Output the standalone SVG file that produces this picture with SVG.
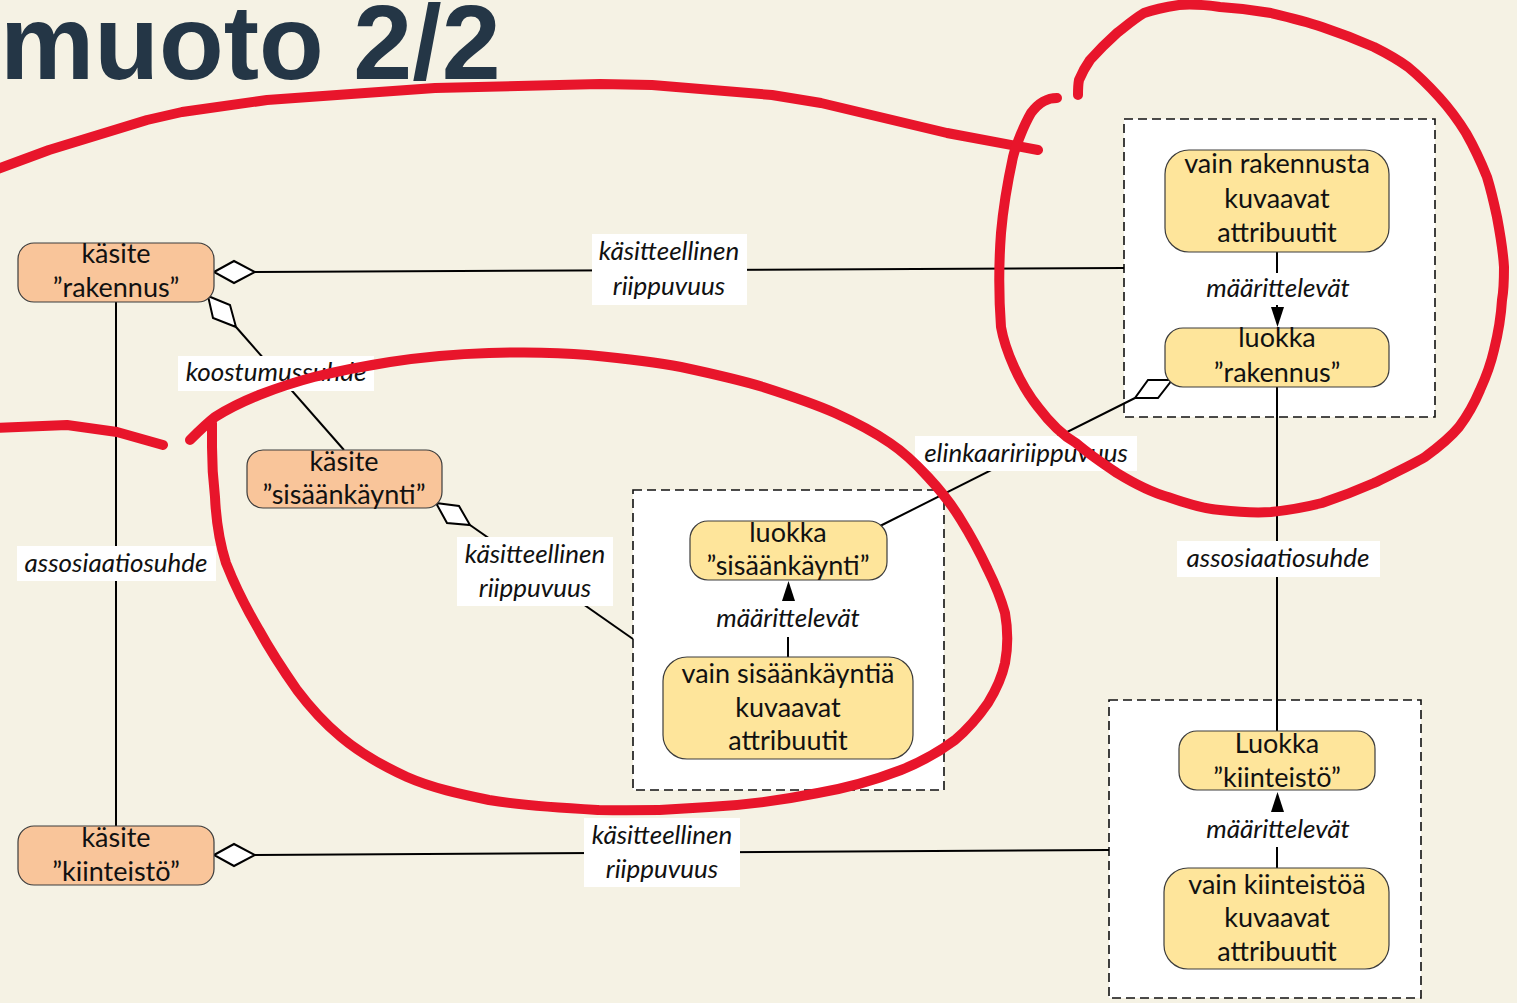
<svg xmlns="http://www.w3.org/2000/svg" width="1517" height="1003" viewBox="0 0 1517 1003">
<defs>
<style>
.bg{fill:#F5F2E4}
.title{font-family:"Liberation Sans",Arial,sans-serif;font-weight:bold;font-size:106px;fill:#243646}
.n{stroke:#3c3c3c;stroke-width:1.2}
.o{fill:#F9C59A}
.y{fill:#FEE59B}
.t{font-family:Lato,"Noto Sans",sans-serif;font-size:27px;fill:#111;text-anchor:middle}
.i{font-family:Lato,"Noto Sans",sans-serif;font-style:italic;font-size:26px;fill:#111;text-anchor:middle}
.box{fill:#fff;stroke:#111;stroke-width:1.6;stroke-dasharray:9 5}
.c{stroke:#000;stroke-width:2;fill:none}
.d{fill:#fff;stroke:#000;stroke-width:2;stroke-linejoin:miter}
.lb{fill:#fff}
.red{fill:none;stroke:#E8152B;stroke-width:10;stroke-linecap:round;stroke-linejoin:round}
</style>
</defs>
<rect class="bg" x="0" y="0" width="1517" height="1003"/>
<text class="title" x="0" y="79">muoto 2/2</text>

<g id="group-rakennus">
<rect class="box" x="1124" y="119" width="311" height="298"/>
</g>
<g id="group-sisaankaynti">
<rect class="box" x="633" y="490" width="311" height="300"/>
</g>
<g id="group-kiinteisto">
<rect class="box" x="1109" y="700" width="312" height="298"/>
</g>

<g id="connectors">
<line class="c" x1="255" y1="272" x2="1124" y2="268"/>
<polygon class="d" points="214,272 234,261 255,272 234,283"/>
<line class="c" x1="236" y1="327" x2="344" y2="450"/>
<polygon class="d" points="208,296 230,305 236,327 213,318"/>
<line class="c" x1="470" y1="525" x2="633" y2="639"/>
<polygon class="d" points="436,503 459,506 470,525 447,523"/>
<line class="c" x1="1135" y1="398" x2="880" y2="526"/>
<polygon class="d" points="1172,380 1148,380 1135,398 1158,398"/>
<line class="c" x1="255" y1="855" x2="1109" y2="850"/>
<polygon class="d" points="214,855 234,844 255,855 234,866"/>
<line class="c" x1="116" y1="302" x2="116" y2="826"/>
<line class="c" x1="1277" y1="387" x2="1277" y2="731"/>
<line class="c" x1="1277" y1="252" x2="1277" y2="273"/>
<line class="c" x1="1277" y1="305" x2="1277" y2="310"/>
<polygon points="1271,307 1284,307 1277.5,327" fill="#000"/>
<line class="c" x1="788" y1="657" x2="788" y2="637"/>
<polygon points="782,601 795,601 788.5,581" fill="#000"/>
<line class="c" x1="1277" y1="868" x2="1277" y2="847"/>
<polygon points="1271,812 1284,812 1277.5,792" fill="#000"/>

<rect class="lb" x="592" y="234" width="155" height="71"/>
<text class="i" x="669" y="260">käsitteellinen</text>
<text class="i" x="669" y="295">riippuvuus</text>
<rect class="lb" x="178" y="356" width="196" height="35"/>
<text class="i" x="276" y="381">koostumussuhde</text>
<rect class="lb" x="457" y="537" width="156" height="69"/>
<text class="i" x="535" y="563">käsitteellinen</text>
<text class="i" x="535" y="597">riippuvuus</text>
<rect class="lb" x="915" y="436" width="222" height="35"/>
<text class="i" x="1026" y="462">elinkaaririippuvuus</text>
<rect class="lb" x="17" y="546" width="199" height="35"/>
<text class="i" x="116" y="572">assosiaatiosuhde</text>
<rect class="lb" x="1177" y="541" width="203" height="36"/>
<text class="i" x="1278" y="567">assosiaatiosuhde</text>
<rect class="lb" x="584" y="818" width="156" height="69"/>
<text class="i" x="662" y="844">käsitteellinen</text>
<text class="i" x="662" y="878">riippuvuus</text>
<text class="i" x="1278" y="297">määrittelevät</text>
<text class="i" x="788" y="627">määrittelevät</text>
<text class="i" x="1278" y="838">määrittelevät</text>
</g>

<g id="kasite-rakennus">
<rect class="n o" x="18" y="243" width="196" height="59" rx="16"/>
<text class="t" x="116" y="263">käsite</text>
<text class="t" x="116" y="297">”rakennus”</text>
</g>
<g id="kasite-sisaankaynti">
<rect class="n o" x="247" y="450" width="195" height="58" rx="16"/>
<text class="t" x="344" y="471">käsite</text>
<text class="t" x="344" y="504">”sisäänkäynti”</text>
</g>
<g id="kasite-kiinteisto">
<rect class="n o" x="18" y="826" width="196" height="59" rx="16"/>
<text class="t" x="116" y="847">käsite</text>
<text class="t" x="116" y="881">”kiinteistö”</text>
</g>
<g id="attr-rakennus">
<rect class="n y" x="1165" y="150" width="224" height="102" rx="24"/>
<text class="t" x="1277" y="173">vain rakennusta</text>
<text class="t" x="1277" y="208">kuvaavat</text>
<text class="t" x="1277" y="242">attribuutit</text>
</g>
<g id="luokka-rakennus">
<rect class="n y" x="1165" y="328" width="224" height="59" rx="18"/>
<text class="t" x="1277" y="347">luokka</text>
<text class="t" x="1277" y="382">”rakennus”</text>
</g>
<g id="luokka-sisaankaynti">
<rect class="n y" x="690" y="521" width="197" height="59" rx="18"/>
<text class="t" x="788" y="542">luokka</text>
<text class="t" x="788" y="575">”sisäänkäynti”</text>
</g>
<g id="attr-sisaankaynti">
<rect class="n y" x="663" y="657" width="250" height="102" rx="24"/>
<text class="t" x="788" y="683">vain sisäänkäyntiä</text>
<text class="t" x="788" y="717">kuvaavat</text>
<text class="t" x="788" y="750">attribuutit</text>
</g>
<g id="luokka-kiinteisto">
<rect class="n y" x="1179" y="731" width="196" height="59" rx="18"/>
<text class="t" x="1277" y="753">Luokka</text>
<text class="t" x="1277" y="787">”kiinteistö”</text>
</g>
<g id="attr-kiinteisto">
<rect class="n y" x="1164" y="868" width="225" height="101" rx="24"/>
<text class="t" x="1277" y="894">vain kiinteistöä</text>
<text class="t" x="1277" y="927">kuvaavat</text>
<text class="t" x="1277" y="961">attribuutit</text>
</g>

<g id="red-annotations">
<path class="red" d="M-5,170 L49,150 L147,120 L182,112 L267,100 L435,88 L600,84 L652,85 L772,95 L821,103 L947,133 L1038,150"/>
<path class="red" d="M-5,428 L67,425 L117,432 L163,445"/>
<path class="red" d="M1057,98 C1048,98 1040,101 1031,113 C1024,125 1016,145 1013,157 C1008,180 1003,210 1001,233 C999,260 999,300 1001,327 C1005,350 1020,385 1038,407 C1050,423 1062,435 1076,443 C1090,455 1105,465 1117,473 C1135,484 1150,492 1168,497 C1185,503 1203,509 1220,510 C1238,512 1255,513 1271,512 C1290,510 1306,507 1322,503 C1340,497 1358,490 1374,483 C1392,474 1410,466 1425,457 C1440,446 1450,438 1459,427 C1468,415 1475,402 1480,390 C1486,377 1491,363 1494,350 C1498,334 1501,317 1502,300 C1504,289 1504,278 1504,267 C1503,250 1500,233 1497,217 C1494,203 1491,190 1487,177 C1481,162 1474,147 1466,133 C1458,120 1449,108 1439,97 C1429,86 1419,76 1408,67 C1397,59 1386,53 1374,47 C1358,40 1340,33 1322,27 C1305,21 1288,17 1271,13 C1254,10 1237,8 1220,7 C1206,5 1192,4 1179,5 C1166,7 1155,9 1144,13 C1134,19 1126,26 1117,33 C1107,42 1098,51 1090,60 C1085,67 1082,73 1079,80 C1078,85 1078,90 1078,95"/>
<path class="red" d="M190,440 C198,432 206,424 215,417 C229,408 244,401 259,395 C277,388 295,382 314,377 C339,371 364,366 390,362 C423,357 456,354 489,353 C522,352 555,352 588,355 C620,358 651,361 681,367 C709,373 737,379 763,387 C788,395 813,403 835,413 C855,422 874,432 890,443 C905,453 917,465 928,477 C941,491 952,505 961,520 C971,536 980,553 988,570 C995,584 1001,599 1005,613 C1008,630 1008,647 1005,663 C1002,677 996,690 988,703 C979,716 968,729 955,740 C939,752 921,762 901,770 C875,780 847,788 818,793 C783,800 746,805 709,807 C672,810 636,811 599,810 C562,808 524,806 489,800 C460,794 432,788 407,777 C383,766 360,753 341,737 C323,722 309,706 297,690 C283,670 270,650 259,630 C246,608 235,586 226,563 C219,541 216,519 215,497 C213,480 212,463 212,447 C212,439 212,431 212,423"/>
</g>
</svg>
